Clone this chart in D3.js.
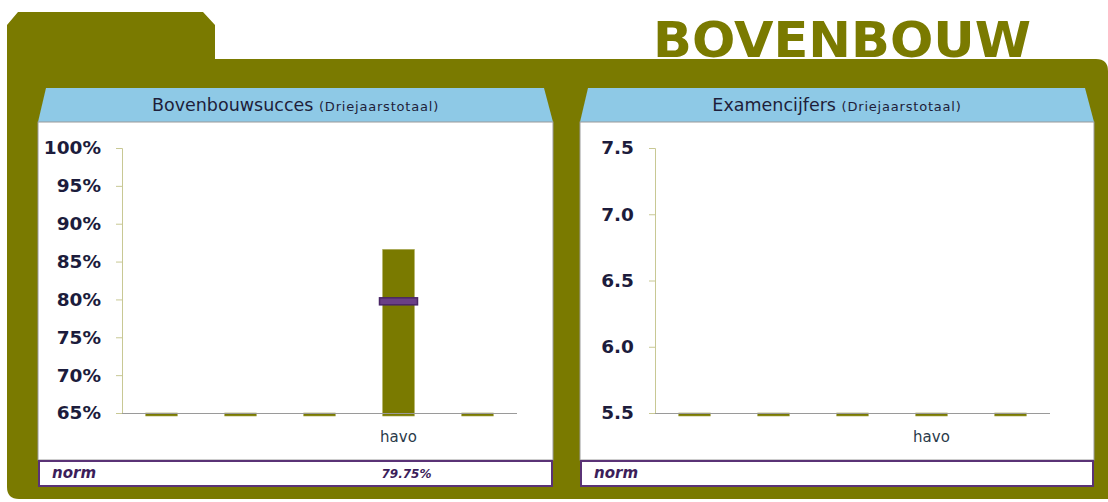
<!DOCTYPE html>
<html>
<head>
<meta charset="utf-8">
<script src="https://d3js.org/d3.v7.min.js"></script>
<style>
  body { margin: 0; background: #fff; }
  svg { display: block; font-family: "DejaVu Sans", Verdana, sans-serif; }
  .tick text { fill: #1c1c3c; }
</style>
</head>
<body>
<svg id="chart" width="1108" height="502"></svg>
<script>
// data
var categories = ["", "", "", "havo", ""];
var succesValues = [null, null, null, 86.6, null];
var succesNorm = [null, null, null, 79.75, null];
var succesTicks = [65, 70, 75, 80, 85, 90, 95, 100];
var examValues = [null, null, null, null, null];
var examTicks = [5.5, 6.0, 6.5, 7.0, 7.5];
var normLabels = ["79.75%", ""];

var olive = "#7a7a00";
var purple = "#5a3276";
var svg = d3.select("#chart");

// folder shape
svg.append("path")
  .attr("d", "M7,25 L18,12 L203,12 L215,25 L215,59 L1096,59 Q1108,59 1108,71 L1108,502 " +
             "L1108,499 L19,499 Q7,499 7,487 Z")
  .attr("fill", olive);

svg.append("text")
  .attr("x", 842).attr("y", 57)
  .attr("text-anchor", "middle")
  .attr("font-size", 50).attr("font-weight", "bold")
  .attr("fill", olive)
  .attr("textLength", 378).attr("lengthAdjust", "spacingAndGlyphs")
  .text("BOVENBOUW");

function panel(opt) {
  var g = svg.append("g");
  var x0 = opt.x0, x1 = opt.x1;
  // header
  g.append("path")
    .attr("d", "M" + (x0 + 8) + ",88 L" + (x1 - 9) + ",88 L" + x1 + ",122 L" + x0 + ",122 Z")
    .attr("fill", "#8ec9e6");
  var t = g.append("text")
    .attr("x", (x0 + x1) / 2).attr("y", 111)
    .attr("text-anchor", "middle").attr("fill", "#1e1e3a");
  t.append("tspan").attr("font-size", 17.5).text(opt.title + " ");
  t.append("tspan").attr("font-size", 13).attr("letter-spacing", 0.8).text("(Driejaarstotaal)");
  // body
  g.append("rect")
    .attr("x", x0).attr("y", 122).attr("width", x1 - x0).attr("height", 338)
    .attr("fill", "#fff").attr("stroke", "#9a9a9a").attr("stroke-width", 1);
  // norm row
  g.append("rect")
    .attr("x", x0 + 1).attr("y", 461).attr("width", x1 - x0 - 2).attr("height", 25)
    .attr("fill", "#fff").attr("stroke", purple).attr("stroke-width", 2);
  g.append("text")
    .attr("x", x0 + 14).attr("y", 478)
    .attr("font-size", 15).attr("font-weight", "bold").attr("font-style", "italic")
    .attr("fill", "#3c1e5a")
    .text("norm");

  // chart
  var y = d3.scaleLinear().domain(opt.domain).range([413, 148]);
  var x = d3.scaleBand().domain(d3.range(categories.length))
    .range([opt.axisX, opt.axisX + 79 * categories.length]).paddingInner(0.6).paddingOuter(0.3);

  var yAxis = g.append("g")
    .attr("transform", "translate(" + opt.axisX + ",0)")
    .call(d3.axisLeft(y).tickValues(opt.ticks).tickSize(6).tickPadding(15).tickFormat(opt.fmt));
  yAxis.select(".domain").attr("stroke", "#c8c894").attr("d", "M-6,148.5H0.5V413.5");
  yAxis.selectAll(".tick line").attr("stroke", "#c8c894");
  yAxis.selectAll(".tick text")
    .attr("font-size", 18.5).attr("font-weight", "bold")
    .attr("font-family", "DejaVu Sans, Verdana, sans-serif");

  var y0 = y(opt.domain[0]);
  g.selectAll(".bar").data(opt.values).enter().append("rect")
    .attr("x", function(d, i) { return x(i); })
    .attr("y", function(d) { return d == null ? y0 : y(d); })
    .attr("width", x.bandwidth())
    .attr("height", function(d) { return (d == null ? 0 : y0 - y(d)) + 3; })
    .attr("fill", olive).attr("stroke", "#a4a44a").attr("stroke-width", 0.6);

  g.append("line")
    .attr("x1", opt.axisX).attr("x2", opt.axisX + 79 * categories.length)
    .attr("y1", y0 + 0.5).attr("y2", y0 + 0.5)
    .attr("stroke", "#9a9a9a").attr("stroke-width", 1.2);

  if (opt.norm) {
    g.selectAll(".normmark").data(opt.norm.filter(function(d) { return d != null; })).enter()
      .append("rect")
      .attr("x", function(d) { return x(opt.norm.indexOf(d)) + x.bandwidth() / 2 - 19; })
      .attr("y", function(d) { return y(d) - 3.5; })
      .attr("width", 38).attr("height", 7)
      .attr("fill", "#6a3f86").attr("stroke", "#4a2666").attr("stroke-width", 1.5);
  }

  g.selectAll(".cat").data(categories).enter().append("text")
    .attr("x", function(d, i) { return x(i) + x.bandwidth() / 2; })
    .attr("y", 442)
    .attr("text-anchor", "middle").attr("font-size", 15).attr("fill", "#2a3a4a")
    .text(function(d) { return d; });

  if (opt.normLabel) {
    var idx = categories.indexOf("havo");
    g.append("text")
      .attr("x", x(idx) + x.bandwidth() / 2 + 8).attr("y", 478)
      .attr("text-anchor", "middle")
      .attr("font-size", 12).attr("font-weight", "bold").attr("font-style", "italic")
      .attr("fill", "#3c1e5a")
      .text(opt.normLabel);
  }
}

panel({ x0: 38, x1: 553, title: "Bovenbouwsucces", domain: [65, 100], ticks: succesTicks,
        fmt: function(d) { return d + "%"; }, values: succesValues, norm: succesNorm,
        axisX: 122, normLabel: normLabels[0] });
panel({ x0: 580, x1: 1094, title: "Examencijfers", domain: [5.5, 7.5], ticks: examTicks,
        fmt: d3.format(".1f"), values: examValues, norm: null,
        axisX: 655, normLabel: normLabels[1] });
</script>
</body>
</html>
